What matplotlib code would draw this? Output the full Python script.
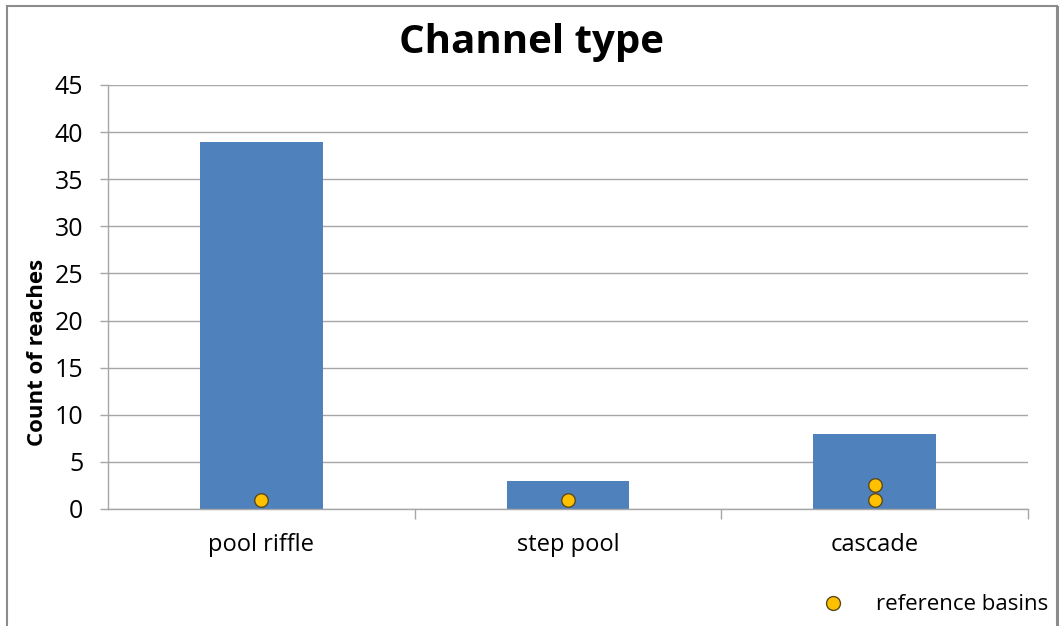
import matplotlib
matplotlib.use("Agg")
import matplotlib.pyplot as plt
from matplotlib.patches import Rectangle
from matplotlib.lines import Line2D

categories = ["pool riffle", "step pool", "cascade"]
counts = [39, 3, 8]
# reference basin points: (category index, value)
ref_cat = [0, 1, 2, 2]
ref_val = [1, 1, 1, 2.5]
y_ticks = [0, 5, 10, 15, 20, 25, 30, 35, 40, 45]

plt.rcParams["font.family"] = ["Open Sans", "DejaVu Sans"]

W, H = 1060, 626
fig = plt.figure(figsize=(W / 100, H / 100), dpi=100)
ax = fig.add_axes([108 / W, 1 - 509 / H, 920 / W, 424 / H])

grid_c = "#A6A6A6"
x = list(range(len(categories)))
ax.bar(x, counts, width=0.4, color="#4F81BD", zorder=2)
ax.scatter(ref_cat, ref_val, s=95, color="#FFC000", edgecolor="#5a4a20",
           linewidth=1.0, zorder=3)

ax.set_xlim(-0.5, len(categories) - 0.5)
ax.set_ylim(0, 45)
ax.set_yticks(y_ticks)
ax.yaxis.grid(True, color=grid_c, linewidth=1.0, zorder=0)
ax.set_axisbelow(True)

ax.set_xticks(x)
ax.set_xticklabels(categories, fontsize=17)
ax.tick_params(axis="x", length=0, pad=17)
ax.set_xticks([0.5, 1.5, 2.5], minor=True)
ax.tick_params(axis="x", which="minor", length=7, color=grid_c, width=1)
ax.tick_params(axis="y", length=5.8, color=grid_c, width=1, labelsize=18, pad=12)

for s in ["top", "right"]:
    ax.spines[s].set_visible(False)
for s in ["left", "bottom"]:
    ax.spines[s].set_color(grid_c)
    ax.spines[s].set_linewidth(1.0)

ax.set_ylabel("Count of reaches", fontsize=16, fontweight="bold")
ax.yaxis.set_label_coords(-0.065, 0.37)
fig.text(531 / W, 1 - 42 / H, "Channel type", ha="center", va="center",
         fontsize=29, fontweight="bold")

handle = Line2D([], [], marker="o", linestyle="none", markersize=10,
                markerfacecolor="#FFC000", markeredgecolor="#5a4a20",
                markeredgewidth=1.0)
fig.legend([handle], ["reference basins"], loc="center left",
           bbox_to_anchor=(800 / W, 1 - 605 / H), frameon=False,
           fontsize=16, handletextpad=0.9, borderpad=0)

# chart frame
fig.patches.append(Rectangle((7 / W, -0.05), 1050 / W, 1 - 6 / H + 0.05,
                             transform=fig.transFigure, fill=False,
                             edgecolor="#8C8C8C", linewidth=1.5))
fig.patches.append(Rectangle((1057 / W, -0.05), 2 / W, 1 - 6 / H + 0.05,
                             transform=fig.transFigure, facecolor="#8C8C8C",
                             edgecolor="none"))

fig.savefig("out.png", dpi=100)
